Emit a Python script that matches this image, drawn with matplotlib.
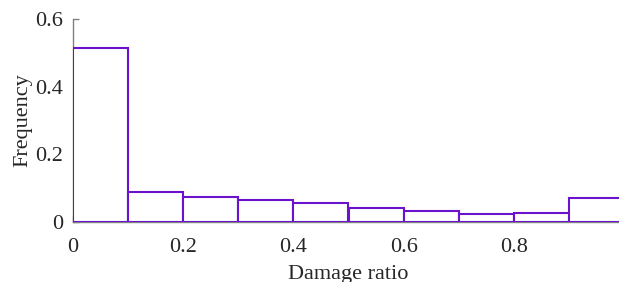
import matplotlib
matplotlib.use("Agg")
import matplotlib.pyplot as plt
import numpy as np

bin_edges = [0.0, 0.1, 0.2, 0.3, 0.4, 0.5, 0.6, 0.7, 0.8, 0.9, 1.0]
frequencies = [0.514, 0.087, 0.072, 0.065, 0.056, 0.042, 0.032, 0.024, 0.025, 0.071]
x_ticks = [0, 0.2, 0.4, 0.6, 0.8]
x_tick_labels = ["0", "0.2", "0.4", "0.6", "0.8"]
y_ticks = [0, 0.2, 0.4, 0.6]
y_tick_labels = ["0", "0.2", "0.4", "0.6"]

plt.rcParams['font.family'] = ['Liberation Serif', 'DejaVu Serif']
plt.rcParams['font.size'] = 16

purple = '#6A12CC'
textc = '#262626'

fig = plt.figure(figsize=(6.19, 2.82), dpi=100)
ax = fig.add_axes([73/619, 60.3/282, (624-73)/619, (221.7-19.3)/282])

centers = [(a + b) / 2 for a, b in zip(bin_edges[:-1], bin_edges[1:])]
ax.hist(centers, bins=bin_edges, weights=frequencies, histtype='bar',
        facecolor='white', edgecolor=purple, linewidth=1.5, zorder=3)

ax.set_xlim(0, 1)
ax.set_ylim(0, 0.6)
ax.set_xticks(x_ticks)
ax.set_xticklabels(x_tick_labels)
ax.set_yticks(y_ticks)
ax.set_yticklabels(y_tick_labels)

for s in ['top', 'right']:
    ax.spines[s].set_visible(False)
for s in ['left', 'bottom']:
    ax.spines[s].set_color('#808080')
    ax.spines[s].set_linewidth(1.0)
ax.tick_params(direction='in', length=4, color='#808080', width=1.0,
               labelcolor=textc, labelsize=16)
ax.tick_params(axis='x', pad=11.5)
ax.tick_params(axis='y', pad=7)

ax.set_xlabel('Damage ratio', fontsize=16, color=textc, labelpad=6)
ax.set_ylabel('Frequency', fontsize=16, color=textc, labelpad=2.5)

fig.savefig('out.png', dpi=100)
